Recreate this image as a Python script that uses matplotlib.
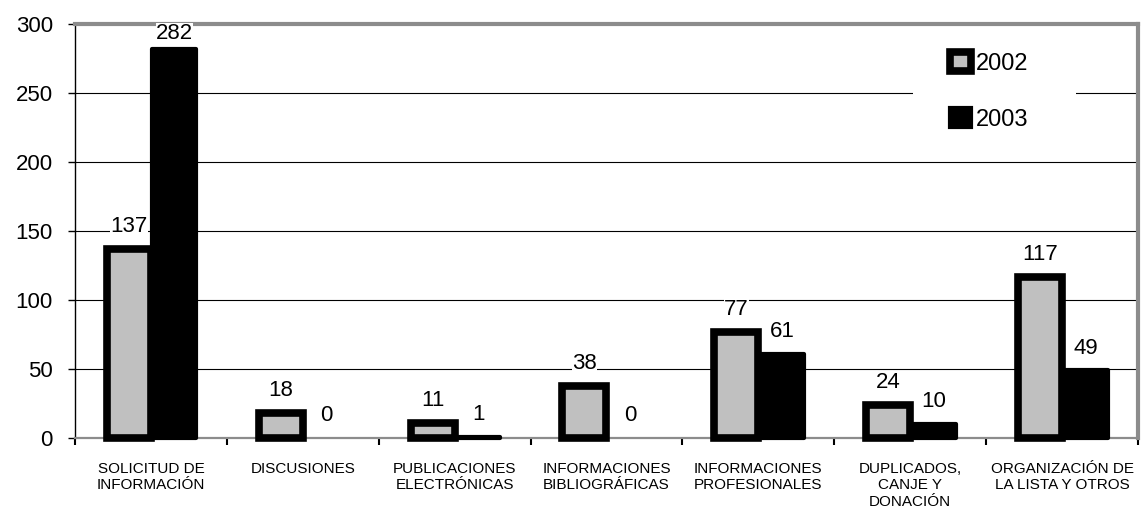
import matplotlib
matplotlib.use('Agg')
import matplotlib.pyplot as plt
import numpy as np
from matplotlib.patches import Rectangle

categories = ["SOLICITUD DE\nINFORMACIÓN", "DISCUSIONES", "PUBLICACIONES\nELECTRÓNICAS",
              "INFORMACIONES\nBIBLIOGRÁFICAS", "INFORMACIONES\nPROFESIONALES",
              "DUPLICADOS,\nCANJE Y\nDONACIÓN", "ORGANIZACIÓN DE\nLA LISTA Y OTROS"]
series = ["2002", "2003"]
v2002 = [137, 18, 11, 38, 77, 24, 117]
v2003 = [282, 0, 1, 0, 61, 10, 49]
yticks = [0, 50, 100, 150, 200, 250, 300]

plt.rcParams['font.family'] = ['Liberation Sans', 'DejaVu Sans']

fig = plt.figure(figsize=(11.43, 5.14), dpi=100)
ax = fig.add_axes([0.0656, 0.1479, 0.9300, 0.8054])

x = np.arange(len(categories))
w = 0.29
lw2003 = [3.0 if v > 0 else 0 for v in v2003]
lw2002 = [5.5 if v > 0 else 0 for v in v2002]
b2 = ax.bar(x + w / 2 + 0.01, v2003, w, color='black', edgecolor='black', linewidth=lw2003,
            zorder=3, joinstyle='round', clip_on=False, label=series[1])
b1 = ax.bar(x - w / 2, v2002, w, color='#c0c0c0', edgecolor='black', linewidth=lw2002,
            zorder=4, joinstyle='miter', clip_on=False, label=series[0])

for xs, vals in ((x - w / 2, v2002), (x + w / 2 + 0.01, v2003)):
    for xi, v in zip(xs, vals):
        # keep labels inside the plot area, as the original chart does
        off = 16 if v < 280 else 11
        ax.annotate(str(v), (xi, v), xytext=(0, off), textcoords='offset points',
                    ha='center', va='center', fontsize=16, zorder=6,
                    bbox=dict(facecolor='white', edgecolor='none', pad=0))

ax.set_xlim(-0.5, len(categories) - 0.5)
ax.set_ylim(0, 300)
ax.set_yticks(yticks)
ax.yaxis.grid(True, color='black', linewidth=0.8)
ax.set_axisbelow(True)

ax.set_xticks(np.arange(-0.5, len(categories), 1))
ax.set_xticklabels([])
ax.set_xticks(x, minor=True)
ax.set_xticklabels(categories, minor=True, fontsize=11, linespacing=1.25)
ax.tick_params(axis='x', which='major', length=5, width=1.5, color='black')
ax.tick_params(axis='x', which='minor', length=0, pad=17)
ax.tick_params(axis='y', length=5, width=1, pad=11, labelsize=16)

ax.spines['left'].set_color('black')
ax.spines['left'].set_linewidth(1)
ax.spines['bottom'].set_color('#8c8c8c')
ax.spines['bottom'].set_linewidth(1.6)
for s in ('top', 'right'):
    ax.spines[s].set_color('#8c8c8c')
    ax.spines[s].set_linewidth(3)

# white area behind legend
ax.add_patch(Rectangle((0.788, 0.696), 0.154, 0.265, transform=ax.transAxes,
                       facecolor='white', edgecolor='none', zorder=1.5))
leg = ax.legend(handles=[b1, b2], labels=series, loc='upper left',
                bbox_to_anchor=(0.823, 0.933), frameon=False, fontsize=17,
                borderpad=0, borderaxespad=0, handlelength=0.9, handleheight=0.9,
                handletextpad=0.2, labelspacing=1.4)

fig.savefig('out.png', dpi=100)
